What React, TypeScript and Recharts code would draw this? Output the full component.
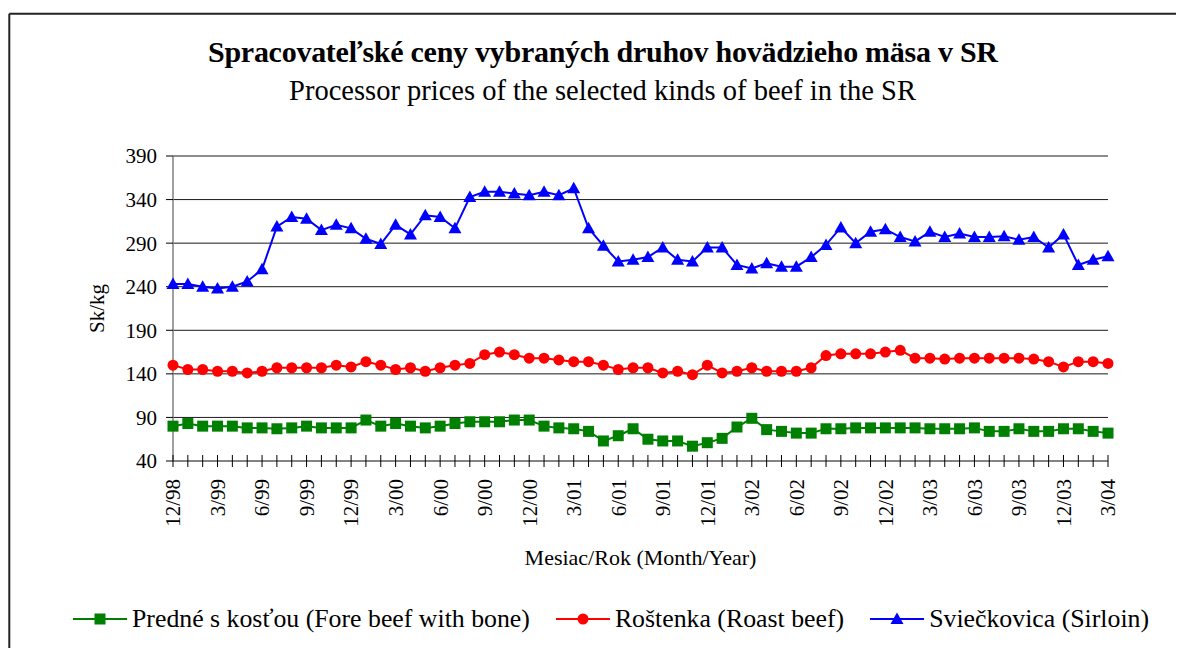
import React from "react";
import { CartesianGrid, Line, LineChart, XAxis, YAxis } from "recharts";

const months = [
  "12/98",
  "1/99", "2/99", "3/99", "4/99", "5/99", "6/99", "7/99", "8/99", "9/99", "10/99", "11/99", "12/99",
  "1/00", "2/00", "3/00", "4/00", "5/00", "6/00", "7/00", "8/00", "9/00", "10/00", "11/00", "12/00",
  "1/01", "2/01", "3/01", "4/01", "5/01", "6/01", "7/01", "8/01", "9/01", "10/01", "11/01", "12/01",
  "1/02", "2/02", "3/02", "4/02", "5/02", "6/02", "7/02", "8/02", "9/02", "10/02", "11/02", "12/02",
  "1/03", "2/03", "3/03", "4/03", "5/03", "6/03", "7/03", "8/03", "9/03", "10/03", "11/03", "12/03",
  "1/04", "2/04", "3/04",
];

// Predné s kosťou
const foreBeef = [
  80, 83, 80, 80, 80, 78, 78, 77, 78, 80, 78, 78, 78, 87, 80, 83,
  80, 78, 80, 83, 85, 85, 85, 87, 87, 80, 78, 77, 74, 63, 69, 77,
  65, 63, 63, 57, 61, 66, 79, 89, 76, 74, 72, 72, 77, 77, 78, 78,
  78, 78, 78, 77, 77, 77, 78, 74, 74, 77, 74, 74, 77, 77, 74, 72,
];

// Roštenka
const roastBeef = [
  150, 145, 145, 143, 143, 141, 143, 147, 147, 147, 147, 150, 148, 154, 150, 145,
  147, 143, 147, 150, 152, 162, 165, 162, 158, 158, 156, 154, 154, 150, 145, 147,
  147, 141, 143, 139, 150, 141, 143, 147, 143, 143, 143, 147, 161, 163, 163, 163,
  165, 167, 158, 158, 157, 158, 158, 158, 158, 158, 157, 154, 148, 154, 154, 152,
];

// Sviečkovica
const sirloin = [
  243, 243, 240, 238, 240, 246, 260, 309, 320, 318, 305, 311, 307, 295, 289, 311,
  300, 322, 320, 307, 343, 349, 349, 347, 345, 349, 345, 353, 307, 287, 269, 271,
  274, 285, 271, 269, 285, 285, 265, 261, 267, 263, 263, 274, 288, 308, 290, 303,
  306, 297, 292, 303, 297, 301, 297, 297, 298, 294, 297, 285, 300, 265, 271, 275,
];

const yTicks = [40, 90, 140, 190, 240, 290, 340, 390];

const data = months.map((month, i) => ({
  month,
  fore: foreBeef[i],
  roast: roastBeef[i],
  sirloin: sirloin[i],
}));

const FONT = '"Liberation Serif", "Times New Roman", serif';

type Shape = "square" | "circle" | "triangle";

const series: { key: string; name: string; color: string; shape: Shape }[] = [
  { key: "fore", name: "Predné s kosťou (Fore beef with bone)", color: "#008000", shape: "square" },
  { key: "roast", name: "Roštenka (Roast beef)", color: "#ff0000", shape: "circle" },
  { key: "sirloin", name: "Sviečkovica (Sirloin)", color: "#0000ff", shape: "triangle" },
];

function Marker({ cx, cy, shape, color }: { cx: number; cy: number; shape: Shape; color: string }) {
  if (cx == null || cy == null) return null;
  if (shape === "square") {
    return <rect x={cx - 5.5} y={cy - 5.5} width={11} height={11} fill={color} />;
  }
  if (shape === "circle") {
    return <circle cx={cx} cy={cy} r={5.5} fill={color} />;
  }
  return (
    <polygon
      points={`${cx},${cy - 6.5} ${cx - 6.5},${cy + 5} ${cx + 6.5},${cy + 5}`}
      fill={color}
    />
  );
}

function MonthTick(props: any) {
  const { x, y, payload } = props;
  const i = payload?.index ?? props.index ?? 0;
  return (
    <g transform={`translate(${x},${y})`}>
      <line y1={-6} y2={6} stroke="#000" strokeWidth={1} />
      {i % 3 === 0 && (
        <text
          transform="rotate(-90)"
          x={-18}
          y={0}
          dy="0.35em"
          textAnchor="end"
          fontSize={21}
          fontFamily={FONT}
          fill="#000"
        >
          {payload.value}
        </text>
      )}
    </g>
  );
}

function YTitle(props: any) {
  const vb = props.viewBox || { x: 85, y: 148, width: 80, height: 305 };
  const x = vb.x + 4;
  const y = vb.y + vb.height / 2;
  return (
    <text
      x={x}
      y={y}
      transform={`rotate(-90, ${x}, ${y})`}
      textAnchor="middle"
      dominantBaseline="central"
      fontSize={21}
      fontFamily={FONT}
      fill="#000"
    >
      Sk/kg
    </text>
  );
}

function XTitle(props: any) {
  const vb = props.viewBox || { x: 165, y: 453, width: 935, height: 110 };
  return (
    <text
      x={vb.x + vb.width / 2}
      y={vb.y + 104}
      textAnchor="middle"
      fontSize={22}
      fontFamily={FONT}
      fill="#000"
    >
      Mesiac/Rok (Month/Year)
    </text>
  );
}

function LegendIcon({ shape, color }: { shape: Shape; color: string }) {
  return (
    <svg width={54} height={20} style={{ display: "block", marginRight: 5 }}>
      <line x1={0} y1={10} x2={54} y2={10} stroke={color} strokeWidth={2} />
      <Marker cx={27} cy={10} shape={shape} color={color} />
    </svg>
  );
}

export default function App() {
  return (
    <div style={{ position: "relative", width: 1168, height: 640, overflow: "hidden", fontFamily: FONT }}>
      <LineChart
        width={1168}
        height={640}
        data={data}
        margin={{ top: 148, right: 68, bottom: 77, left: 85 }}
      >
        <CartesianGrid vertical={false} stroke="#1a1a1a" strokeWidth={1} />
        <XAxis
          dataKey="month"
          interval={0}
          height={110}
          tickSize={0}
          tickMargin={0}
          tickLine={false}
          tick={<MonthTick />}
          axisLine={{ stroke: "#808080", strokeWidth: 1.5 }}
          label={<XTitle />}
        />
        <YAxis
          type="number"
          domain={[40, 390]}
          ticks={yTicks}
          interval={0}
          width={80}
          tickSize={7}
          tickMargin={9}
          tickLine={{ stroke: "#000" }}
          axisLine={{ stroke: "#808080", strokeWidth: 1.5 }}
          tick={{ fontSize: 21, fontFamily: FONT, fill: "#000" }}
          label={<YTitle />}
        />
        {series.map((s) => (
          <Line
            key={s.key}
            type="linear"
            dataKey={s.key}
            name={s.name}
            stroke={s.color}
            strokeWidth={2}
            isAnimationActive={false}
            activeDot={false}
            dot={(p: any) => (
              <Marker key={`${s.key}-${p.index}`} cx={p.cx} cy={p.cy} shape={s.shape} color={s.color} />
            )}
          />
        ))}
      </LineChart>

      <svg
        width={1168}
        height={640}
        style={{ position: "absolute", left: 0, top: 0, pointerEvents: "none" }}
      >
        <line x1={1.3} y1={5.7} x2={1168} y2={5.7} stroke="#222" strokeWidth={2} />
        <line x1={1.3} y1={5.7} x2={1.3} y2={640} stroke="#222" strokeWidth={2} />
        <text
          x={595}
          y={54.3}
          textAnchor="middle"
          fontSize={30}
          fontWeight="bold"
          fontFamily={FONT}
          fill="#000"
          textLength={790}
          lengthAdjust="spacing"
        >
          Spracovateľské ceny vybraných druhov hovädzieho mäsa v SR
        </text>
        <text x={594.5} y={92} textAnchor="middle" fontSize={28.5} fontFamily={FONT} fill="#000">
          Processor prices of the selected kinds of beef in the SR
        </text>
      </svg>

      <div
        style={{
          position: "absolute",
          left: 65,
          top: 596,
          height: 30,
          display: "flex",
          alignItems: "center",
          fontSize: 25.8,
          whiteSpace: "nowrap",
          color: "#000",
        }}
      >
        {series.map((s) => (
          <div key={s.key} style={{ display: "flex", alignItems: "center", marginRight: 26 }}>
            <LegendIcon shape={s.shape} color={s.color} />
            <span>{s.name}</span>
          </div>
        ))}
      </div>
    </div>
  );
}
